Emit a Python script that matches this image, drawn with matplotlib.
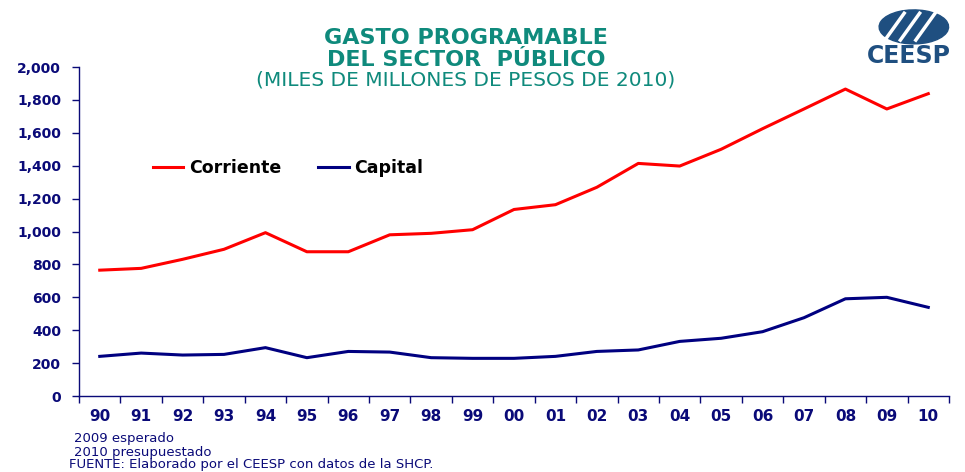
import numpy as np
import matplotlib.pyplot as plt
from matplotlib.patches import Ellipse
from matplotlib.ticker import FuncFormatter, FixedLocator

years = ['90', '91', '92', '93', '94', '95', '96', '97', '98', '99', '00',
         '01', '02', '03', '04', '05', '06', '07', '08', '09', '10']
corriente = [765, 776, 831, 892, 993, 877, 877, 980, 989, 1011, 1134,
             1163, 1269, 1414, 1398, 1500, 1625, 1745, 1866, 1745, 1838]
capital = [241, 261, 249, 253, 294, 233, 271, 267, 233, 229, 229,
           241, 271, 280, 332, 351, 391, 476, 591, 600, 539]

navy = '#0a0a78'
teal = '#0f8a7c'

fig = plt.figure(figsize=(9.65, 4.72), dpi=100)
ax = fig.add_axes([0.0819, 0.161, 0.9015, 0.697])

x = np.arange(len(years))
ax.plot(x, corriente, color='#ff0000', lw=2.2, label='Corriente')
ax.plot(x, capital, color='#000080', lw=2.2, label='Capital')

ax.set_xlim(-0.5, len(years) - 0.5)
ax.set_ylim(0, 2000)
ax.set_yticks(np.arange(0, 2001, 200))
ax.yaxis.set_major_formatter(FuncFormatter(lambda v, p: f'{int(v):,}'))

# ticks on category boundaries, labels in the middle
ax.xaxis.set_major_locator(FixedLocator(np.arange(-0.5, len(years), 1)))
ax.xaxis.set_minor_locator(FixedLocator(x))
ax.set_xticklabels([], minor=False)
ax.set_xticklabels(years, minor=True)
ax.tick_params(axis='x', which='major', length=5, width=1, color=navy, direction='out')
ax.tick_params(axis='x', which='minor', length=0, pad=9, labelsize=11, labelcolor=navy)
ax.tick_params(axis='y', length=5, width=1, color=navy, pad=8, labelsize=10, labelcolor=navy)
for lbl in ax.get_xticklabels(minor=True) + ax.get_yticklabels():
    lbl.set_fontweight('bold')

for s in ['top', 'right']:
    ax.spines[s].set_visible(False)
for s in ['left', 'bottom']:
    ax.spines[s].set_color(navy)
    ax.spines[s].set_linewidth(1)
ax.set_facecolor('none')

leg = ax.legend(loc='center left', bbox_to_anchor=(0.085, 0.694), ncol=2, frameon=False,
                handlelength=1.75, handletextpad=0.35, columnspacing=2.1,
                prop={'weight': 'bold', 'size': 12.5}, borderaxespad=0, borderpad=0)

# titles
fig.text(0.483, 0.919, 'GASTO PROGRAMABLE', ha='center', va='center',
         fontsize=16, fontweight='bold', color=teal)
fig.text(0.483, 0.873, 'DEL SECTOR  PÚBLICO', ha='center', va='center',
         fontsize=16, fontweight='bold', color=teal)
fig.text(0.483, 0.830, '(MILES DE MILLONES DE PESOS DE 2010)', ha='center', va='center',
         fontsize=14.5, color=teal)

# logo
logo = '#1f4f80'
fig.patches.append(Ellipse((0.947, 0.943), 0.072, 0.072, angle=25, color=logo,
                           transform=fig.transFigure, zorder=1))
for dx in [-0.016, 0.0, 0.016]:
    fig.add_artist(plt.Line2D([0.933 + dx, 0.953 + dx], [0.915, 0.972], color='white',
                              lw=2.5, transform=fig.transFigure, zorder=2))
fig.text(0.942, 0.906, 'CEESP', ha='center', va='top', fontsize=17,
         fontweight='bold', color=logo)

# notes
fig.text(0.077, 0.070, '2009 esperado', fontsize=9.5, color=navy, va='center')
fig.text(0.077, 0.042, '2010 presupuestado', fontsize=9.5, color=navy, va='center')
fig.text(0.072, 0.015, 'FUENTE: Elaborado por el CEESP con datos de la SHCP.',
         fontsize=9.5, color=navy, va='center')

plt.savefig('out.png', dpi=100)
